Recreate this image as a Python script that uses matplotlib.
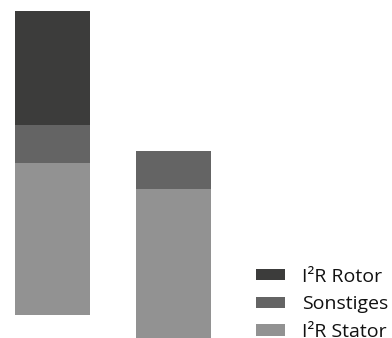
import numpy as np
import matplotlib.pyplot as plt
from matplotlib.patches import Patch

# two motor loss bars (relative units), second bar sits lower
positions  = [0, 1]
baseline   = [0.0, -0.68]
stator     = [4.0, 4.0]
sonstiges  = [1.0, 1.0]
rotor      = [3.0, 0.0]
labels     = ['I²R Stator', 'Sonstiges', 'I²R Rotor']
colors     = ['#929292', '#646464', '#3c3c3b']

plt.rcParams['font.family'] = ['Open Sans', 'DejaVu Sans']

fig = plt.figure(figsize=(3.92, 3.38), dpi=100)
ax = fig.add_axes([0, 0, 1, 1])

base = np.array(baseline)
w = 0.62
ax.bar(positions, stator, w, bottom=base, color=colors[0], linewidth=0)
base = base + np.array(stator)
ax.bar(positions, sonstiges, w, bottom=base, color=colors[1], linewidth=0)
base = base + np.array(sonstiges)
ax.bar(positions, rotor, w, bottom=base, color=colors[2], linewidth=0)

ax.set_xlim(-0.434, 2.806)
ax.set_ylim(-0.605, 8.29)
ax.axis('off')

handles = [Patch(color=c, linewidth=0) for c in colors]
leg = ax.legend(handles[::-1], labels[::-1], loc='lower left',
                bbox_to_anchor=(256 / 392, -3 / 338), bbox_transform=fig.transFigure,
                frameon=False, fontsize=14, handlelength=1.5, handleheight=0.52,
                handletextpad=0.88, labelspacing=0.5, borderpad=0,
                borderaxespad=0)
for t in leg.get_texts():
    t.set_color('#111111')

plt.savefig('out.png', dpi=100)
